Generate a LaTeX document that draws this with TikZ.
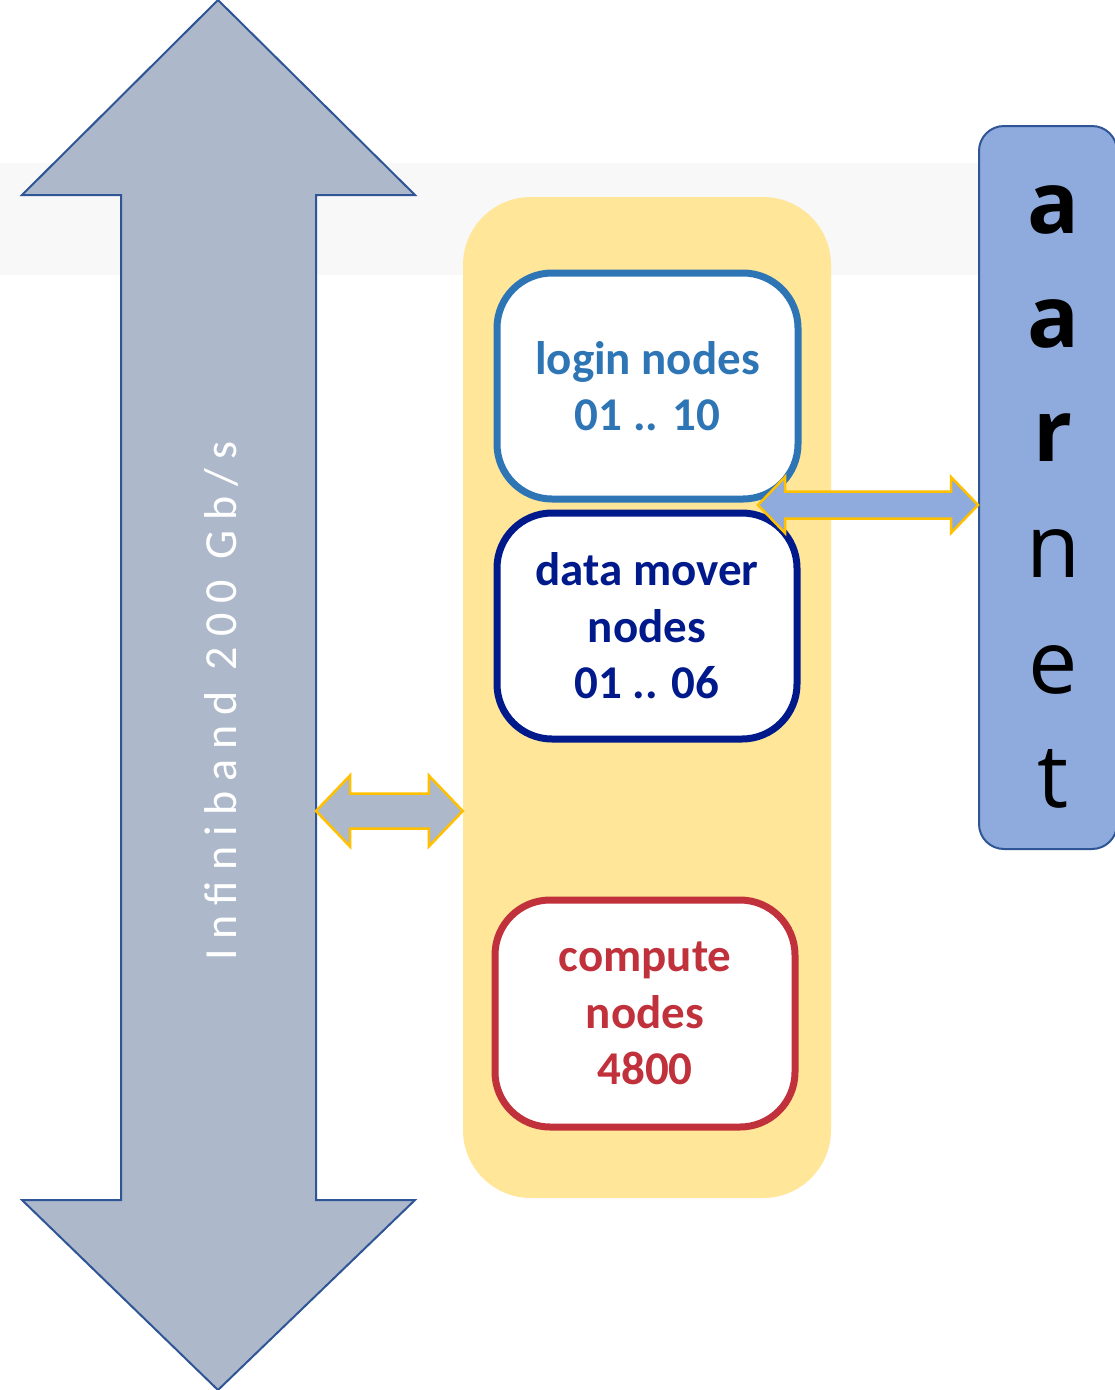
\documentclass[tikz,border=0pt]{standalone}
\usepackage{fontspec}
\setmainfont{Carlito}
\newfontfamily\ibfont[LetterSpace=22]{Carlito}
\newfontfamily\arnfont{Open Sans}
\usetikzlibrary{calc}
\definecolor{ibfill}{HTML}{ADB9CA}
\definecolor{ibline}{HTML}{2F5597}
\definecolor{bandc}{HTML}{F8F8F8}
\definecolor{clusterc}{HTML}{FFE699}
\definecolor{loginc}{HTML}{2E75B6}
\definecolor{moverc}{RGB}{0,26,140}
\definecolor{computec}{RGB}{192,49,60}
\definecolor{arnetfill}{HTML}{8FAADC}
\definecolor{goldc}{HTML}{FFC000}
\newcommand\hdarrow[6]{%
  \draw[#1] let \p1=(#2), \p2=(#3) in
  (\x1,\y1) -- (\x1+#4pt,\y1+#6pt) -- (\x1+#4pt,\y1+#5pt) -- (\x2-#4pt,\y1+#5pt)
  -- (\x2-#4pt,\y1+#6pt) -- (\x2,\y1) -- (\x2-#4pt,\y1-#6pt) -- (\x2-#4pt,\y1-#5pt)
  -- (\x1+#4pt,\y1-#5pt) -- (\x1+#4pt,\y1-#6pt) -- cycle;}
\begin{document}
\begin{tikzpicture}[x=1pt,y=-1pt,
  nodebox/.style={draw, fill=white, line width=7pt, rounded corners=55pt,
    minimum width=301pt, minimum height=226pt, inner sep=0pt, align=center,
    font=\bfseries\fontsize{47}{56.5}\selectfont},
  linkarrow/.style={draw=goldc, line width=2.5pt, line join=miter},
  letter/.style={anchor=base, inner sep=0pt, font=\arnfont\fontsize{88}{88}\selectfont},
  bletter/.style={letter, font=\arnfont\bfseries\fontsize{86}{86}\selectfont}]
\useasboundingbox (0,0) rectangle (1115,1390);
\fill[white] (0,0) rectangle (1115,1390);
% grey band
\fill[bandc] (0,163) rectangle (990,275);
% infiniband arrow
\draw[fill=ibfill, draw=ibline, line width=2pt, line join=miter]
  (218,0) -- (415,195) -- (316,195) -- (316,1200) -- (415,1200) -- (218,1390)
  -- (22,1200) -- (121,1200) -- (121,195) -- (22,195) -- cycle;
\coordinate (ibR) at (316,811);
\node[rotate=90, anchor=base, inner sep=0pt, text=white,
  font=\ibfont\fontsize{46}{46}\selectfont] (iblabel) at (236,701) {Infiniband 200 Gb/s};
% cluster
\node[fill=clusterc, rounded corners=68pt, minimum width=368pt, minimum height=1001pt,
  inner sep=0pt] (cluster) at (647,697.5) {};
\node[nodebox, draw=loginc, text=loginc] (login) at (647.5,386) {login nodes\\01 .. 10};
\node[nodebox, draw=moverc, text=moverc, minimum width=300pt] (mover) at (647,626) {data mover\\nodes\\01 .. 06};
\node[nodebox, draw=computec, text=computec, minimum width=300pt, minimum height=227pt] (compute) at (645,1013.5) {compute\\nodes\\4800};
% arnet
\node[draw=ibline, fill=arnetfill, line width=2pt, rounded corners=25pt,
  minimum width=138pt, minimum height=723pt, inner sep=0pt] (arnet) at (1048,487.5) {};
\node[bletter] (l1) at (1053,233) {a};
\node[bletter] (l2) at (1053,347) {a};
\node[bletter] (l3) at (1053,461) {r};
\node[letter] (l4) at (1053,577) {n};
\node[letter] (l5) at (1053,693) {e};
\node[letter] (l6) at (1053,807) {t};
% connectors
\coordinate (loginTip) at (758,505);
\hdarrow{linkarrow, fill=ibfill}{ibR}{cluster.west |- ibR}{34}{17.5}{35.5}
\hdarrow{linkarrow, fill=arnetfill}{loginTip}{arnet.west |- loginTip}{27}{13.5}{28}
\end{tikzpicture}
\end{document}
